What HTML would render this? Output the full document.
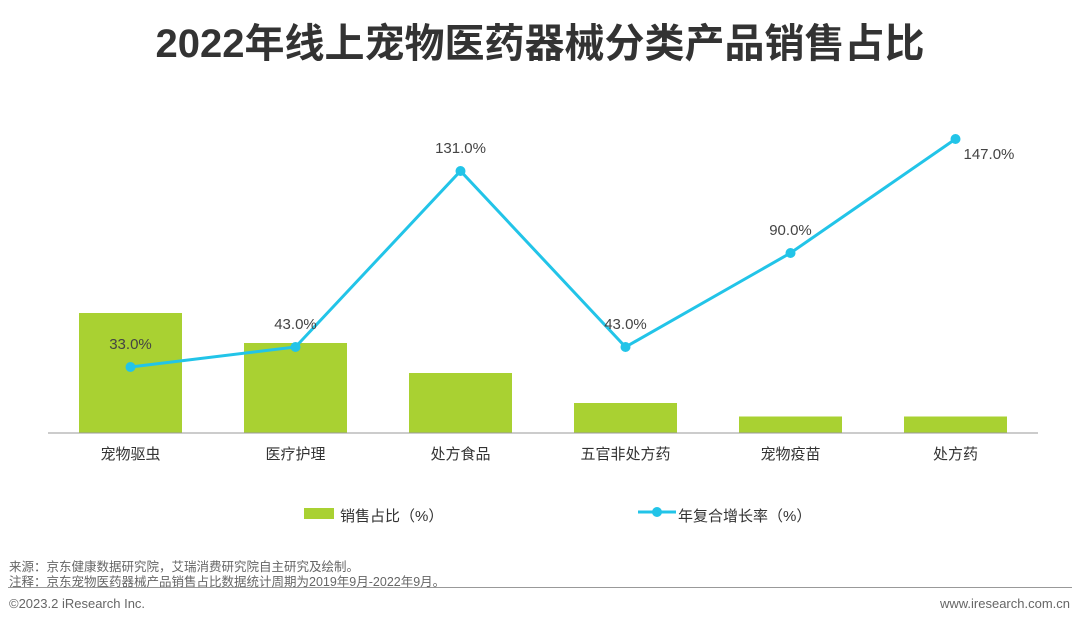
<!DOCTYPE html>
<html><head><meta charset="utf-8"><style>
html,body{margin:0;padding:0;background:#fff;}
body{width:1080px;height:624px;overflow:hidden;position:relative;font-family:"Liberation Sans","Noto Sans CJK SC",sans-serif;}
.t{position:absolute;white-space:nowrap;}
</style></head><body>
<div class="t" style="left:0;width:1080px;top:11px;text-align:center;font-size:40px;font-weight:bold;color:#333;">2022年线上宠物医药器械分类产品销售占比</div>
<svg id="c" width="1080" height="624" style="position:absolute;left:0;top:0"></svg>
<div class="t" style="left:9px;top:556px;font-size:12.5px;color:#666;">来源：京东健康数据研究院，艾瑞消费研究院自主研究及绘制。</div>
<div class="t" style="left:9px;top:571px;font-size:12.5px;color:#666;">注释：京东宠物医药器械产品销售占比数据统计周期为2019年9月-2022年9月。</div>
<div style="position:absolute;left:8px;top:587px;width:1064px;height:1px;background:#999;"></div>
<div class="t" style="left:9px;top:596px;font-size:13px;color:#666;">©2023.2 iResearch Inc.</div>
<div class="t" style="right:10px;top:596px;font-size:13px;color:#666;">www.iresearch.com.cn</div>
<script>
const categories=["宠物驱虫","医疗护理","处方食品","五官非处方药","宠物疫苗","处方药"];
const shareValues=[40,30,20,10,5.5,5.5];
const growthValues=[33,43,131,43,90,147];
const growthLabels=["33.0%","43.0%","131.0%","43.0%","90.0%","147.0%"];
const NS="http://www.w3.org/2000/svg";
const svg=document.getElementById('c');
const x0=48,bw=165,base=433;
const xC=i=>x0+bw*(i+0.5);
const yBar=v=>base-v*3;
const yLine=v=>base-v*2;
function mk(t,a,p){const e=document.createElementNS(NS,t);for(const k in a)e.setAttribute(k,a[k]);(p||svg).appendChild(e);return e;}
categories.forEach((c,i)=>{
 const r=mk('rect',{x:xC(i)-51.5,y:yBar(shareValues[i]),width:103,height:base-yBar(shareValues[i]),fill:'#a9d132'});
 
 
 const t=mk('text',{x:xC(i),y:459,'text-anchor':'middle','font-size':'15',fill:'#333'});
 t.textContent=c;
 
 
});
const ax=mk('line',{x1:x0,x2:x0+bw*6,y1:base,y2:base,stroke:'#999','stroke-width':1});


const pl=mk('polyline',{points:growthValues.map((v,i)=>xC(i)+','+yLine(v)).join(' '),fill:'none',stroke:'#22c4e8','stroke-width':3});


growthValues.forEach((v,i)=>{
 const c=mk('circle',{cx:xC(i),cy:yLine(v),r:5,fill:'#22c4e8'});
 
 
 const last=i===growthValues.length-1;
 const t=mk('text',{x:last?xC(i)+8:xC(i),y:last?yLine(v)+20:yLine(v)-18,'text-anchor':last?'start':'middle','font-size':'15',fill:'#444'});
 t.textContent=growthLabels[i];
 
 
});
const lg1=mk('rect',{x:304,y:508,width:30,height:11,fill:'#a9d132'});


const lt1=mk('text',{x:340,y:521,'font-size':'15',fill:'#333'});lt1.textContent='销售占比（%）';


const lg2=mk('line',{x1:638,x2:676,y1:512,y2:512,stroke:'#22c4e8','stroke-width':3});


const lc=mk('circle',{cx:657,cy:512,r:5,fill:'#22c4e8'});


const lt2=mk('text',{x:678,y:521,'font-size':'15',fill:'#333'});lt2.textContent='年复合增长率（%）';


</script>
</body></html>
